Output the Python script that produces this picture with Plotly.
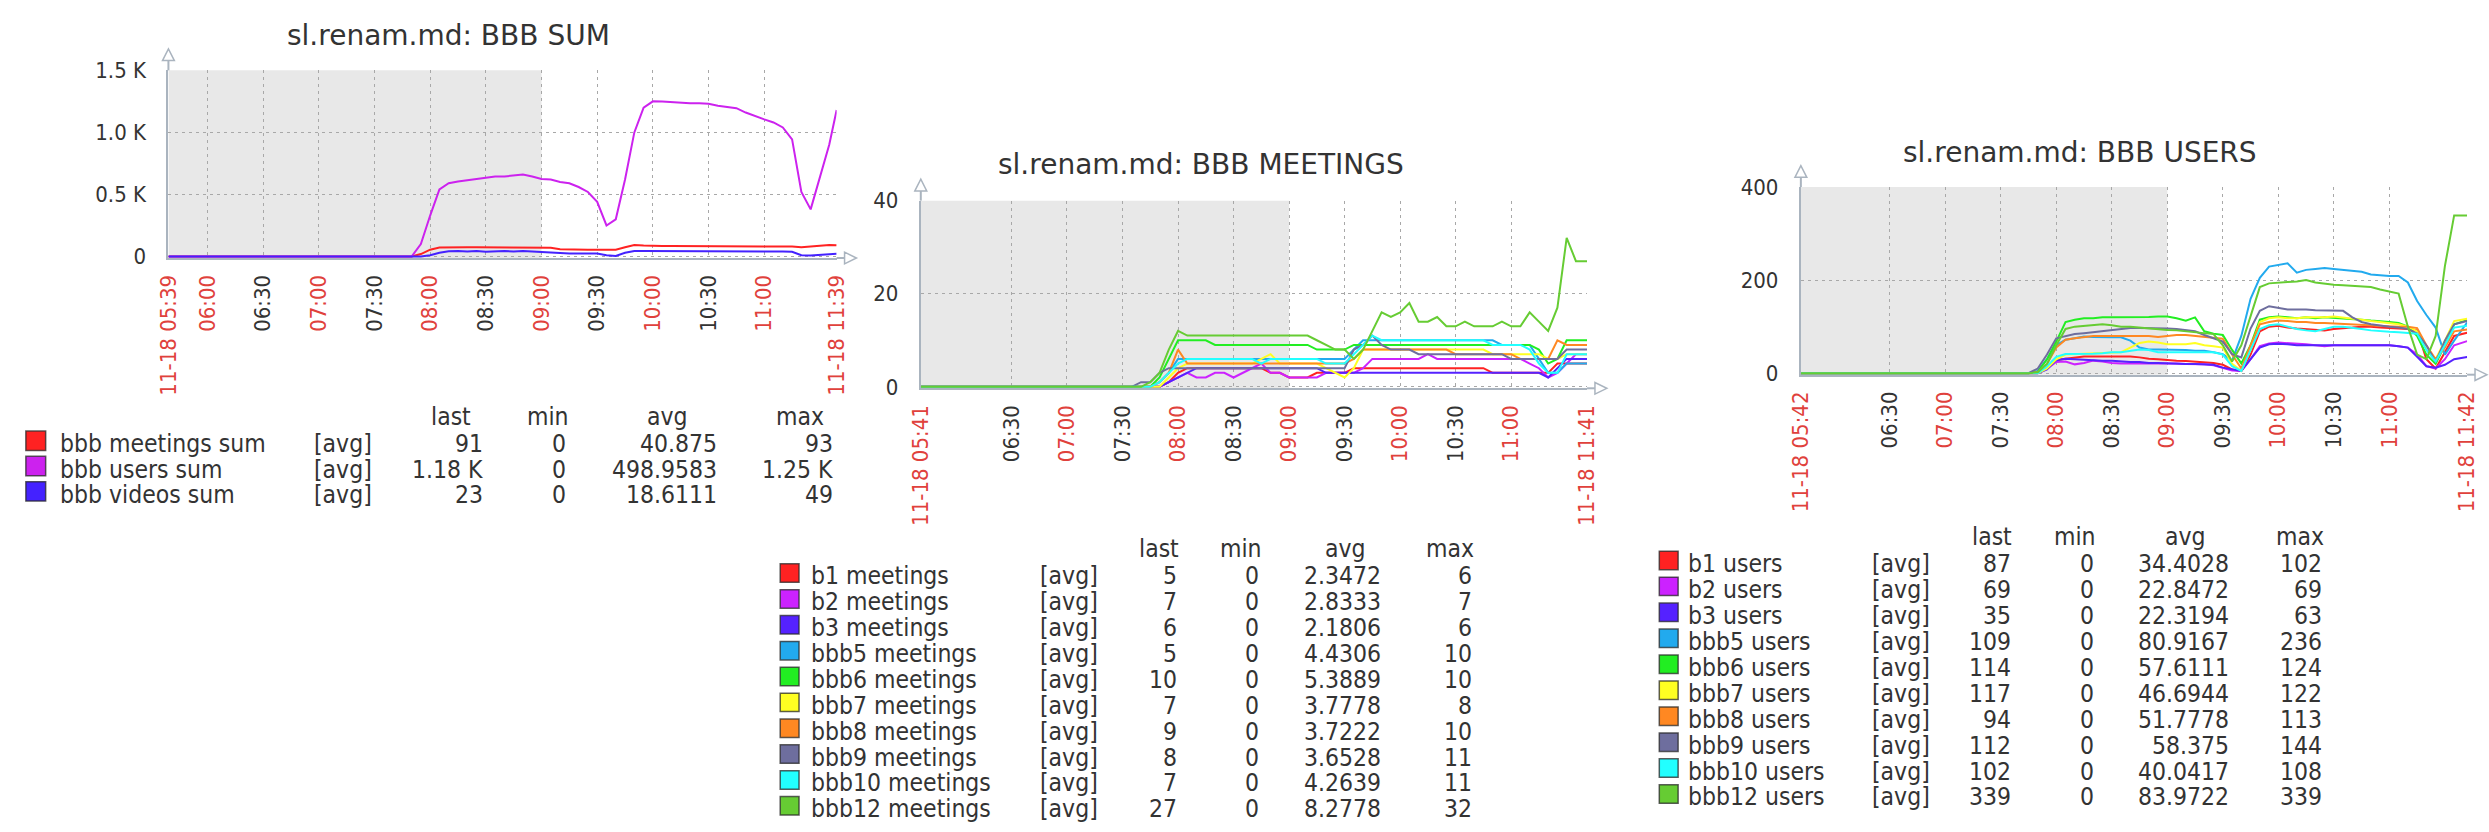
import plotly.graph_objects as go
import pandas as pd

W, H = 2489, 832
DAY = "2020-11-18"

# ---------------- data ----------------
# sampling clock: series start point, then 07:30 ... 11:35 every 5 min, then end point
grid = [t.strftime("%H:%M") for t in pd.date_range(f"{DAY} 07:30", f"{DAY} 11:35", freq="5min")]

# ---- chart 1 : BBB SUM (05:39 - 11:39)
sum_start, sum_end = "05:39", "11:39"
sum_meetings = [0, 0, 0, 0, 0, 0, 20, 55,
                72, 75, 75, 75, 74, 74,
                75, 74, 74, 73, 72, 72,
                70, 58, 55, 55, 55, 55,
                55, 55, 75, 93, 88, 85,
                85, 85, 85, 85, 85, 85,
                85, 85, 85, 85, 85, 85,
                85, 82, 80, 75, 82, 92,
                93, 91]
sum_users = [0, 0, 0, 0, 0, 0, 100, 330,
             540, 590, 605, 615, 630, 640,
             645, 645, 655, 660, 645, 625,
             620, 600, 590, 560, 520, 440,
             250, 300, 620, 1000, 1200, 1250,
             1248, 1242, 1235, 1235, 1235, 1230,
             1215, 1205, 1195, 1160, 1130, 1105,
             1080, 1040, 944, 520, 380, 640,
             900, 1180]
sum_videos = [0, 0, 0, 0, 0, 0, 0, 10,
              30, 42, 45, 40, 45, 38,
              42, 45, 40, 45, 40, 35,
              35, 28, 25, 25, 25, 25,
              10, 5, 30, 45, 45, 45,
              45, 45, 45, 45, 45, 45,
              45, 40, 40, 45, 45, 42,
              40, 40, 38, 10, 8, 12,
              20, 23]
sum_names = ["bbb meetings sum", "bbb users sum", "bbb videos sum"]
sum_colors = ["#FF2222", "#CC22EE", "#4422FF"]
sum_last = ["91", "1.18 K", "23"]
sum_min = ["0", "0", "0"]
sum_avg = ["40.875", "498.9583", "18.6111"]
sum_max = ["93", "1.25 K", "49"]
sum_yticks = [0, 500, 1000, 1500]
sum_yticktext = ["0", "0.5 K", "1.0 K", "1.5 K"]
sum_xticks = ["06:00", "06:30", "07:00", "07:30", "08:00", "08:30", "09:00",
              "09:30", "10:00", "10:30", "11:00"]

# ---- chart 2 : BBB MEETINGS (05:41 - 11:41)
mt_start, mt_end = "05:41", "11:41"
mt_b1 = [0, 0, 0, 0, 0, 0, 1, 3,
         4, 4, 4, 4, 4, 4,
         4, 4, 4, 3, 3, 2,
         2, 2, 3, 3, 3, 3,
         4, 4, 4, 4, 4, 4,
         4, 4, 4, 4, 4, 4,
         4, 4, 4, 3, 3, 3,
         3, 3, 3, 3, 5, 5,
         5, 5]
mt_b2 = [0, 0, 0, 0, 0, 0, 1, 2,
         3, 2, 2, 3, 3, 2,
         3, 4, 5, 3, 3, 2,
         2, 2, 2, 3, 3, 3,
         3, 4, 6, 6, 6, 6,
         6, 6, 7, 6, 6, 6,
         6, 6, 6, 6, 6, 6,
         6, 5, 4, 2, 3, 5,
         7, 7]
mt_b3 = [0, 0, 0, 0, 0, 0, 1, 2,
         3, 4, 4, 4, 4, 4,
         4, 4, 4, 4, 4, 4,
         4, 4, 4, 3, 3, 3,
         3, 3, 3, 3, 3, 3,
         3, 3, 3, 3, 3, 3,
         3, 3, 3, 3, 3, 3,
         3, 3, 3, 2, 4, 6,
         6, 6]
mt_bbb5 = [0, 0, 0, 0, 0, 1, 3, 6,
           6, 6, 6, 6, 6, 6,
           6, 6, 6, 6, 6, 6,
           6, 6, 6, 6, 6, 6,
           8, 10, 10, 10, 10, 10,
           10, 10, 10, 10, 10, 10,
           10, 10, 10, 10, 9, 9,
           9, 9, 6, 3, 3, 5,
           5, 5]
mt_bbb6 = [0, 0, 0, 0, 0, 2, 6, 10,
           10, 10, 10, 9, 9, 9,
           9, 9, 9, 9, 9, 9,
           9, 9, 8, 8, 8, 8,
           9, 9, 9, 9, 9, 9,
           9, 9, 9, 9, 9, 9,
           9, 9, 9, 9, 9, 9,
           9, 9, 8, 5, 6, 10,
           10, 10]
mt_bbb7 = [0, 0, 0, 0, 0, 0, 2, 4,
           5, 5, 5, 5, 5, 5,
           5, 5, 6, 7, 5, 5,
           5, 5, 5, 4, 3, 2,
           4, 8, 8, 8, 8, 8,
           8, 8, 8, 8, 8, 8,
           8, 8, 8, 7, 7, 7,
           7, 7, 7, 6, 6, 7,
           7, 7]
mt_bbb8 = [0, 0, 0, 0, 0, 1, 3, 8,
           5, 5, 5, 5, 5, 5,
           5, 5, 5, 5, 5, 5,
           5, 5, 5, 5, 5, 5,
           6, 8, 8, 8, 8, 8,
           8, 8, 8, 8, 8, 7,
           7, 7, 7, 7, 7, 7,
           6, 6, 6, 6, 10, 9,
           9, 9]
mt_bbb9 = [0, 0, 0, 1, 1, 3, 4, 4,
           4, 4, 4, 4, 4, 4,
           4, 4, 4, 4, 4, 4,
           4, 4, 4, 4, 4, 4,
           8, 9, 11, 9, 8, 8,
           8, 7, 7, 7, 7, 7,
           7, 7, 7, 7, 7, 6,
           6, 6, 6, 6, 6, 8,
           8, 8]
mt_bbb10 = [0, 0, 0, 0, 0, 1, 3, 5,
            6, 6, 6, 6, 6, 6,
            6, 6, 5, 6, 6, 6,
            6, 6, 6, 5, 5, 5,
            7, 9, 11, 10, 10, 10,
            10, 10, 10, 10, 10, 10,
            10, 10, 10, 9, 9, 9,
            9, 8, 5, 3, 3, 7,
            7, 7]
mt_bbb12 = [0, 0, 0, 0, 1, 3, 8, 12,
            11, 11, 11, 11, 11, 11,
            11, 11, 11, 11, 11, 11,
            11, 11, 10, 9, 8, 8,
            6, 8, 12, 16, 15, 16,
            18, 14, 14, 15, 13, 13,
            14, 13, 13, 13, 14, 13,
            13, 16, 14, 12, 17, 32,
            27, 27]
mt_names = ["b1 meetings", "b2 meetings", "b3 meetings", "bbb5 meetings", "bbb6 meetings",
            "bbb7 meetings", "bbb8 meetings", "bbb9 meetings", "bbb10 meetings", "bbb12 meetings"]
mt_last = ["5", "7", "6", "5", "10", "7", "9", "8", "7", "27"]
mt_min = ["0"] * 10
mt_avg = ["2.3472", "2.8333", "2.1806", "4.4306", "5.3889", "3.7778", "3.7222", "3.6528", "4.2639", "8.2778"]
mt_max = ["6", "7", "6", "10", "10", "8", "10", "11", "11", "32"]
mt_yticks = [0, 20, 40]
mt_xticks = ["06:30", "07:00", "07:30", "08:00", "08:30", "09:00",
             "09:30", "10:00", "10:30", "11:00"]

# ---- chart 3 : BBB USERS (05:42 - 11:42)
us_start, us_end = "05:42", "11:42"
us_b1 = [0, 0, 0, 0, 0, 0, 10, 28,
         31, 34, 36, 36, 36, 35,
         36, 36, 34, 31, 30, 28,
         27, 26, 25, 24, 22, 18,
         8, 5, 40, 90, 100, 102,
         98, 96, 95, 94, 92, 95,
         96, 98, 100, 100, 98, 97,
         96, 95, 92, 30, 10, 45,
         80, 87]
us_b2 = [0, 0, 0, 0, 0, 0, 10, 24,
         25, 19, 22, 27, 25, 22,
         21, 21, 22, 21, 21, 21,
         21, 20, 20, 19, 17, 12,
         6, 5, 30, 58, 64, 66,
         65, 63, 62, 60, 58, 60,
         60, 60, 60, 60, 60, 60,
         58, 55, 40, 15, 10, 30,
         60, 69]
us_b3 = [0, 0, 0, 0, 0, 0, 8, 28,
         31, 30, 28, 27, 27, 27,
         25, 24, 24, 22, 22, 21,
         21, 20, 20, 19, 18, 12,
         8, 5, 30, 55, 62, 63,
         62, 60, 60, 60, 60, 60,
         60, 60, 60, 60, 60, 60,
         58, 55, 35, 15, 12, 18,
         30, 35]
us_bbb5 = [0, 0, 0, 0, 0, 5, 30, 60,
           72, 75, 79, 78, 77, 77,
           77, 70, 55, 51, 51, 51,
           50, 50, 48, 48, 45, 41,
           27, 80, 160, 205, 229, 232,
           236, 216, 222, 224, 226, 224,
           222, 220, 218, 212, 210, 209,
           209, 195, 155, 125, 98, 40,
           70, 109]
us_bbb6 = [0, 0, 0, 0, 0, 3, 30, 68,
           110, 115, 118, 118, 120, 120,
           120, 120, 121, 121, 122, 122,
           118, 113, 120, 90, 85, 82,
           50, 21, 60, 115, 120, 122,
           120, 118, 120, 118, 120, 119,
           118, 116, 115, 113, 112, 110,
           108, 100, 80, 40, 20, 60,
           105, 114]
us_bbb7 = [0, 0, 0, 0, 0, 0, 10, 30,
           40, 41, 42, 43, 44, 45,
           45, 55, 65, 68, 66, 62,
           62, 62, 65, 60, 58, 55,
           20, 5, 50, 110, 118, 120,
           118, 118, 120, 120, 120, 122,
           120, 118, 115, 112, 110, 108,
           105, 100, 90, 50, 30, 70,
           112, 117]
us_bbb8 = [0, 0, 0, 0, 0, 2, 20, 55,
           72, 75, 78, 80, 80, 80,
           80, 80, 80, 80, 78, 80,
           82, 82, 80, 78, 76, 74,
           40, 10, 60, 105, 110, 113,
           112, 110, 110, 108, 108, 107,
           106, 105, 104, 103, 102, 100,
           100, 100, 97, 60, 30, 55,
           90, 94]
us_bbb9 = [0, 0, 0, 0, 0, 10, 40, 75,
           80, 84, 86, 88, 90, 92,
           95, 97, 97, 97, 96, 96,
           95, 92, 90, 82, 75, 68,
           41, 34, 96, 134, 144, 140,
           137, 137, 137, 135, 135, 135,
           134, 120, 110, 105, 102, 100,
           98, 95, 85, 60, 24, 70,
           105, 112]
us_bbb10 = [0, 0, 0, 0, 0, 0, 15, 35,
            41, 41, 42, 42, 43, 45,
            45, 48, 51, 50, 45, 45,
            45, 45, 45, 45, 45, 40,
            15, 5, 50, 95, 103, 105,
            100, 95, 92, 90, 95, 100,
            100, 98, 95, 92, 90, 89,
            88, 86, 85, 50, 25, 60,
            98, 102]
us_bbb12 = [0, 0, 0, 0, 0, 2, 20, 60,
            95, 100, 102, 104, 105, 103,
            100, 100, 98, 96, 95, 93,
            92, 90, 88, 86, 84, 60,
            25, 60, 123, 185, 193, 195,
            196, 197, 200, 195, 192, 190,
            189, 188, 187, 185, 180, 175,
            171, 100, 40, 30, 80, 230,
            339, 339]
us_names = ["b1 users", "b2 users", "b3 users", "bbb5 users", "bbb6 users",
            "bbb7 users", "bbb8 users", "bbb9 users", "bbb10 users", "bbb12 users"]
us_last = ["87", "69", "35", "109", "114", "117", "94", "112", "102", "339"]
us_min = ["0"] * 10
us_avg = ["34.4028", "22.8472", "22.3194", "80.9167", "57.6111", "46.6944", "51.7778", "58.375", "40.0417", "83.9722"]
us_max = ["102", "69", "63", "236", "124", "122", "113", "144", "108", "339"]
us_yticks = [0, 200, 400]
us_xticks = mt_xticks

item_colors = ["#FF2222", "#CC22FF", "#5522FF", "#22AAEE", "#22EE22",
               "#FFFF22", "#FF8822", "#6E6E9E", "#22FFFF", "#66CC33"]

# ---------------- styling ----------------
RED = "#E0413C"
TXT = "#333333"
AXIS = "#AAB4BF"
GRID = "#A8A8A8"
SHADE = "#E8E8E8"
FONT = "DejaVu Sans"
COND = "DejaVu Sans Condensed, DejaVu Sans"
LEG_SIZE = 24.5


def X(px):
    return px / W


def Y(py):
    return 1 - py / H


def ts(clock):
    return f"{DAY} {clock}"


fig = go.Figure()
shapes = []
annotations = []

charts = [
    dict(idx="", title="sl.renam.md: BBB SUM", start=sum_start, end=sum_end,
         series=[sum_meetings, sum_users, sum_videos], colors=sum_colors,
         names=sum_names, last=sum_last, mn=sum_min, avg=sum_avg, mx=sum_max,
         yticks=sum_yticks, yticktext=sum_yticktext, ytop=1500,
         xticks=sum_xticks,
         box=(157, 832, 60, 253), title_xy=(440, 24),
         leg=dict(header_y=416, row_y0=444, row_dy=26, sq=(13, 33), name=45, avg_tag=302,
                  rights=(477, 561, 713, 830), heads=(442, 540, 661, 795))),
    dict(idx="2", title="sl.renam.md: BBB MEETINGS", start=mt_start, end=mt_end,
         series=[mt_b1, mt_b2, mt_b3, mt_bbb5, mt_bbb6, mt_bbb7, mt_bbb8, mt_bbb9, mt_bbb10, mt_bbb12],
         colors=item_colors, names=mt_names, last=mt_last, mn=mt_min, avg=mt_avg, mx=mt_max,
         yticks=mt_yticks, yticktext=[str(v) for v in mt_yticks], ytop=40,
         xticks=mt_xticks,
         box=(917, 1590, 194, 387), title_xy=(1200, 157),
         leg=dict(header_y=552, row_y0=580, row_dy=26.6, sq=(775, 794), name=804, avg_tag=1035,
                  rights=(1178, 1261, 1384, 1476), heads=(1158, 1240, 1346, 1452))),
    dict(idx="3", title="sl.renam.md: BBB USERS", start=us_start, end=us_end,
         series=[us_b1, us_b2, us_b3, us_bbb5, us_bbb6, us_bbb7, us_bbb8, us_bbb9, us_bbb10, us_bbb12],
         colors=item_colors, names=us_names, last=us_last, mn=us_min, avg=us_avg, mx=us_max,
         yticks=us_yticks, yticktext=[str(v) for v in us_yticks], ytop=400,
         xticks=us_xticks,
         box=(1806, 2479, 180, 373), title_xy=(2088, 144),
         leg=dict(header_y=539, row_y0=567, row_dy=26.7, sq=(1663, 1682), name=1690, avg_tag=1876,
                  rights=(2020, 2104, 2240, 2334), heads=(1999, 2083, 2195, 2310))),
]

for c in charts:
    xa = "x" + c["idx"]
    ya = "y" + c["idx"]
    x_times = [ts(c["start"])] + [ts(g) for g in grid] + [ts(c["end"])]
    for vals, col, name in zip(c["series"], c["colors"], c["names"]):
        fig.add_trace(go.Scatter(x=x_times, y=vals, mode="lines", name=name,
                                 line=dict(color=col, width=2), xaxis=xa, yaxis=ya,
                                 showlegend=False, hoverinfo="skip"))
    x0, x1, y0, y1 = c["box"]
    ytop = c["ytop"]
    # x ticks
    tickvals = [ts(c["start"])] + [ts(t) for t in c["xticks"]] + [ts(c["end"])]
    ticktext = []
    for i, t in enumerate(tickvals):
        clock = t[-5:]
        if i == 0 or i == len(tickvals) - 1:
            ticktext.append(f'<span style="color:{RED}">11-18 {clock}</span>')
        elif clock.endswith(":00"):
            ticktext.append(f'<span style="color:{RED}">{clock}</span>')
        else:
            ticktext.append(clock)
    xkey = "xaxis" + c["idx"]
    ykey = "yaxis" + c["idx"]
    fig.update_layout(**{
        xkey: dict(domain=[X(x0), X(x1)], anchor=ya, type="date",
                   range=[ts(c["start"]), ts(c["end"])],
                   tickmode="array", tickvals=tickvals, ticktext=ticktext, tickangle=-90,
                   tickfont=dict(family=COND, size=22, color=TXT),
                   showgrid=True, gridcolor=GRID, griddash="3px,4px", gridwidth=1,
                   showline=True, linecolor=AXIS, linewidth=2, ticks="",
                   ticklabelstandoff=6, zeroline=False, fixedrange=True),
        ykey: dict(domain=[Y(y1), Y(y0)], anchor=xa, range=[-ytop * 0.008, ytop],
                   tickmode="array", tickvals=c["yticks"], ticktext=c["yticktext"],
                   tickfont=dict(family=COND, size=22, color=TXT),
                   showgrid=True, gridcolor=GRID, griddash="3px,4px", gridwidth=1,
                   showline=True, linecolor=AXIS, linewidth=2, ticks="",
                   ticklabelstandoff=16, zeroline=False, fixedrange=True),
    })
    # non-working-time shading (until 09:00)
    shapes.append(dict(type="rect", xref=xa, yref=ya + " domain", x0=ts(c["start"]), x1=ts("09:00"),
                       y0=0, y1=1, fillcolor=SHADE, line=dict(width=0), layer="below"))
    # axis extensions with open arrow heads
    shapes.append(dict(type="line", xref="paper", yref="paper", x0=X(x0), x1=X(x0),
                       y0=Y(y0), y1=Y(y0 - 16), line=dict(color=AXIS, width=2)))
    shapes.append(dict(type="path", xref="paper", yref="paper",
                       path=f"M {X(x0 - 6)},{Y(y0 - 10)} L {X(x0)},{Y(y0 - 22)} L {X(x0 + 6)},{Y(y0 - 10)} Z",
                       line=dict(color=AXIS, width=1.5), fillcolor="white"))
    shapes.append(dict(type="line", xref="paper", yref="paper", x0=X(x1), x1=X(x1 + 14),
                       y0=Y(y1), y1=Y(y1), line=dict(color=AXIS, width=2)))
    shapes.append(dict(type="path", xref="paper", yref="paper",
                       path=f"M {X(x1 + 8)},{Y(y1 - 6)} L {X(x1 + 20)},{Y(y1)} L {X(x1 + 8)},{Y(y1 + 6)} Z",
                       line=dict(color=AXIS, width=1.5), fillcolor="white"))
    # title
    tx, ty = c["title_xy"]
    annotations.append(dict(text=c["title"], x=X(tx), y=Y(ty), xref="paper", yref="paper",
                            xanchor="center", yanchor="middle", showarrow=False,
                            font=dict(family=FONT, size=28, color=TXT)))
    # legend table
    L = c["leg"]
    for head, hx in zip(["last", "min", "avg", "max"], L["heads"]):
        annotations.append(dict(text=head, x=X(hx), y=Y(L["header_y"]), xref="paper", yref="paper",
                                xanchor="center", yanchor="middle", showarrow=False,
                                font=dict(family=COND, size=LEG_SIZE, color=TXT)))
    for i, name in enumerate(c["names"]):
        ry = L["row_y0"] + i * L["row_dy"]
        sq0, sq1 = L["sq"]
        half = (sq1 - sq0) / 2
        shapes.append(dict(type="rect", xref="paper", yref="paper", x0=X(sq0), x1=X(sq1),
                           y0=Y(ry - 3 + half), y1=Y(ry - 3 - half), fillcolor=c["colors"][i],
                           line=dict(color="rgba(40,40,40,0.75)", width=1.5)))
        annotations.append(dict(text=name, x=X(L["name"]), y=Y(ry), xref="paper", yref="paper",
                                xanchor="left", yanchor="middle", showarrow=False,
                                font=dict(family=COND, size=LEG_SIZE, color=TXT)))
        annotations.append(dict(text="[avg]", x=X(L["avg_tag"]), y=Y(ry), xref="paper", yref="paper",
                                xanchor="left", yanchor="middle", showarrow=False,
                                font=dict(family=COND, size=LEG_SIZE, color=TXT)))
        for val, rx in zip([c["last"][i], c["mn"][i], c["avg"][i], c["mx"][i]], L["rights"]):
            annotations.append(dict(text=val, x=X(rx), y=Y(ry), xref="paper", yref="paper",
                                    xanchor="right", yanchor="middle", showarrow=False,
                                    font=dict(family=COND, size=LEG_SIZE, color=TXT)))

fig.update_layout(width=W, height=H, margin=dict(l=0, r=0, t=0, b=0),
                  paper_bgcolor="white", plot_bgcolor="white",
                  shapes=shapes, annotations=annotations, showlegend=False,
                  font=dict(family=FONT, color=TXT))

fig.write_html("out.html", config={"displayModeBar": False},
               post_script="document.body.style.margin='0';document.body.style.overflow='hidden';")
